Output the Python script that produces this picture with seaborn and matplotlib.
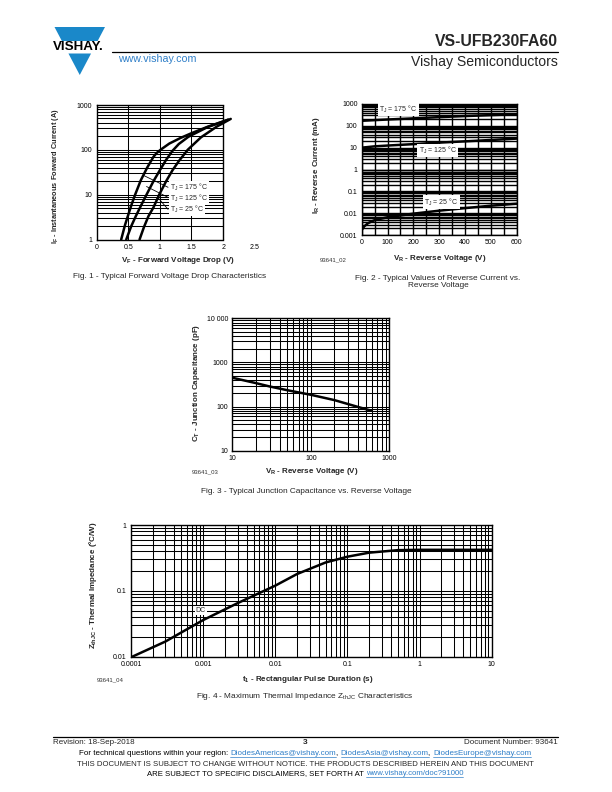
import numpy as np
import pandas as pd
import matplotlib
matplotlib.use("Agg")
import matplotlib.pyplot as plt
import seaborn as sns
from matplotlib.ticker import FixedLocator, NullFormatter, LogLocator, MultipleLocator, FixedFormatter
from matplotlib.patches import Polygon
from matplotlib.lines import Line2D

# ---------------- data ----------------
# Fig 1: forward characteristics
vf_175 = [0.39, 0.45, 0.50, 0.55, 0.61, 0.70, 0.80, 0.90, 0.95, 1.01, 1.15, 1.33, 1.50, 1.75, 2.08]
if_175 = [1, 2.1, 3.5, 5.8, 10, 21, 40, 70, 85, 100, 138, 185, 235, 325, 470]
vf_125 = [0.47, 0.55, 0.62, 0.70, 0.79, 0.90, 1.00, 1.10, 1.20, 1.30, 1.45, 1.75, 2.08]
if_125 = [1, 2, 3.3, 5.6, 10, 20, 35, 60, 95, 135, 195, 320, 470]
vf_25 = [0.68, 0.75, 0.82, 0.90, 0.99, 1.10, 1.20, 1.30, 1.44, 1.65, 1.90, 2.12]
if_25 = [1, 1.9, 3.3, 5.2, 10, 20, 35, 56, 100, 190, 330, 490]

# Fig 2: reverse current
vr_hot = [0, 100, 200, 300, 400, 500, 600]
ir_175 = [170, 195, 220, 250, 280, 310, 340]
vr_125 = [0, 50, 100, 200, 300, 400, 500, 600]
ir_125 = [10, 11.5, 12.5, 14.5, 17, 19.5, 22.5, 26]
vr_25 = [0, 10, 25, 50, 100, 200, 300, 400, 500, 600]
ir_25 = [0.0017, 0.0025, 0.0035, 0.0048, 0.0065, 0.0095, 0.013, 0.017, 0.022, 0.027]

# Fig 3: junction capacitance
vr_cap = [10, 20, 30, 50, 100, 200, 400, 600]
ct_cap = [450, 340, 285, 235, 185, 140, 98, 80]

# Fig 4: thermal impedance
t_pulse = [1e-4, 3e-4, 1e-3, 3e-3, 1e-2, 2e-2, 5e-2, 0.1, 0.2, 0.5, 1, 10]
z_thjc = [0.0098, 0.017, 0.036, 0.065, 0.12, 0.18, 0.27, 0.33, 0.38, 0.415, 0.42, 0.42]

# ---------------- style ----------------
sns.set_theme(style="white")
plt.rcParams["font.family"] = ["Liberation Sans", "DejaVu Sans"]
plt.rcParams["mathtext.fontset"] = "custom"
plt.rcParams["mathtext.rm"] = "Liberation Sans"
plt.rcParams["mathtext.it"] = "Liberation Sans:italic"
plt.rcParams["mathtext.bf"] = "Liberation Sans:bold"

W, H = 612, 792
fig = plt.figure(figsize=(6.12, 7.92), dpi=100)
fig.patch.set_facecolor("white")
BLUE = "#1a88c9"
LINK = "#2f7fc8"
GRID_LW = 0.75
CURVE_LW = 1.8
TICK_FS = 5.0
LAB_FS = 5.8
CAP_FS = 5.95


def fx(x):
    return x / W


def fy(y):
    return 1 - y / H


def axrect(l, t, r, b):
    return fig.add_axes([l / W, 1 - b / H, (r - l) / W, (b - t) / H])


def ftext(x, y, s, **kw):
    kw.setdefault("va", "center")
    return fig.text(fx(x), fy(y), s, **kw)


def style_axes(ax):
    for sp in ax.spines.values():
        sp.set_color("black")
        sp.set_linewidth(1.0)
        sp.set_visible(True)
    ax.tick_params(which="both", length=0, labelsize=TICK_FS, colors="black", pad=3)
    ax.set_xlabel("")
    ax.set_ylabel("")
    ax.set_facecolor("white")


def lbl_box(ax, x, y, s, fs=TICK_FS):
    ax.text(x, y, s, fontsize=fs, va="center", ha="left", zorder=6,
            bbox=dict(boxstyle="square,pad=0.15", fc="white", ec="none"))


# ---------------- Fig 1 ----------------
ax1 = axrect(96.5, 105, 254.8, 239.5)
df1 = pd.concat([
    pd.DataFrame({"V": vf_175, "I": if_175, "T": "175"}),
    pd.DataFrame({"V": vf_125, "I": if_125, "T": "125"}),
    pd.DataFrame({"V": vf_25, "I": if_25, "T": "25"}),
])
sns.lineplot(data=df1, x="V", y="I", hue="T", palette={"175": "black", "125": "black", "25": "black"},
             estimator=None, sort=False, legend=False, lw=CURVE_LW, ax=ax1, zorder=4)
ax1.set_yscale("log")
ax1.set_xlim(0, 2.5)
ax1.set_ylim(1, 1000)
style_axes(ax1)
ax1.spines["right"].set_visible(False)
ax1.spines["top"].set_bounds(0, 2)
ax1.spines["bottom"].set_bounds(0, 2)
hv = [m * 10 ** d for d in range(0, 3) for m in range(2, 10)] + [10, 100]
ax1.hlines(hv, 0, 2, color="black", lw=GRID_LW, zorder=1)
ax1.vlines([0.5, 1.0, 1.5], 1, 1000, color="black", lw=GRID_LW, zorder=1)
ax1.vlines([2.0], 1, 1000, color="black", lw=1.0, zorder=1)
ax1.xaxis.set_major_locator(FixedLocator([0, 0.5, 1, 1.5, 2, 2.5]))
ax1.xaxis.set_major_formatter(FixedFormatter(["0", "0.5", "1", "1.5", "2", "2.5"]))
ax1.yaxis.set_major_locator(FixedLocator([1, 10, 100, 1000]))
ax1.yaxis.set_major_formatter(FixedFormatter(["1", "10", "100", "1000"]))
ax1.yaxis.set_minor_formatter(NullFormatter())
ax1.yaxis.set_minor_locator(FixedLocator([]))
for (x0, y0, x1, y1) in [(0.74, 27, 1.13, 14.6), (0.79, 15.2, 1.13, 8.7), (0.97, 8.6, 1.13, 4.7)]:
    ax1.plot([x0, x1], [y0, y1], color="black", lw=0.6, zorder=5)
lbl_box(ax1, 1.16, 14.6, r"T$_\mathrm{J}$ = 175 °C")
lbl_box(ax1, 1.16, 8.4, r"T$_\mathrm{J}$ = 125 °C")
lbl_box(ax1, 1.16, 4.6, r"T$_\mathrm{J}$ = 25 °C")

ftext(178, 261, r"$\mathbf{V_F}$ - Forward Voltage Drop (V)", fontsize=LAB_FS, weight="bold", ha="center")
ftext(56, 176, r"$\mathbf{I_F}$ - Instantaneous Forward Current (A)", fontsize=5.3, weight="bold",
      ha="center", rotation=90)
ftext(170, 277, "Fig. 1 - Typical Forward Voltage Drop Characteristics", fontsize=CAP_FS, ha="center")

# ---------------- Fig 2 ----------------
ax2 = axrect(361.7, 104, 516.7, 235)
df2 = pd.concat([
    pd.DataFrame({"V": vr_hot, "I": ir_175, "T": "175"}),
    pd.DataFrame({"V": vr_125, "I": ir_125, "T": "125"}),
    pd.DataFrame({"V": vr_25, "I": ir_25, "T": "25"}),
])
sns.lineplot(data=df2, x="V", y="I", hue="T", palette={"175": "black", "125": "black", "25": "black"},
             estimator=None, sort=False, legend=False, lw=CURVE_LW, ax=ax2, zorder=4)
ax2.set_yscale("log")
ax2.set_xlim(0, 600)
ax2.set_ylim(0.001, 1000)
style_axes(ax2)
ax2.xaxis.set_major_locator(FixedLocator([0, 100, 200, 300, 400, 500, 600]))
ax2.xaxis.set_major_formatter(FixedFormatter(["0", "100", "200", "300", "400", "500", "600"]))
ax2.xaxis.set_minor_locator(MultipleLocator(50))
ax2.yaxis.set_major_locator(FixedLocator([0.001, 0.01, 0.1, 1, 10, 100, 1000]))
ax2.yaxis.set_major_formatter(FixedFormatter(["0.001", "0.01", "0.1", "1", "10", "100", "1000"]))
ax2.yaxis.set_minor_locator(LogLocator(base=10, subs=np.arange(2, 10), numticks=20))
ax2.yaxis.set_minor_formatter(NullFormatter())
ax2.grid(True, which="both", color="black", lw=1.0, zorder=1)
ax2.set_axisbelow(True)
lbl_box(ax2, 68, 550, r"T$_\mathrm{J}$ = 175 °C")
lbl_box(ax2, 220, 7.3, r"T$_\mathrm{J}$ = 125 °C")
lbl_box(ax2, 243, 0.032, r"T$_\mathrm{J}$ = 25 °C")

ftext(440, 259, r"$\mathbf{V_R}$ - Reverse Voltage (V)", fontsize=LAB_FS, weight="bold", ha="center")
ftext(316, 165, r"$\mathbf{I_R}$ - Reverse Current (mA)", fontsize=LAB_FS, weight="bold",
      ha="center", rotation=90)
ftext(320, 259.5, "93641_02", fontsize=4.3, ha="left", color="#333333")
ftext(438, 282, "Fig. 2 - Typical Values of Reverse Current vs.\nReverse Voltage", fontsize=CAP_FS,
      ha="center", multialignment="center", linespacing=1.1)

# ---------------- Fig 3 ----------------
ax3 = axrect(232.3, 318.3, 389.3, 450.7)
df3 = pd.DataFrame({"V": vr_cap, "C": ct_cap})
sns.lineplot(data=df3, x="V", y="C", color="black", lw=CURVE_LW, ax=ax3, zorder=4)
ax3.set_xscale("log")
ax3.set_yscale("log")
ax3.set_xlim(10, 1000)
ax3.set_ylim(10, 10000)
style_axes(ax3)
ax3.xaxis.set_major_locator(FixedLocator([10, 100, 1000]))
ax3.xaxis.set_major_formatter(FixedFormatter(["10", "100", "1000"]))
ax3.yaxis.set_major_locator(FixedLocator([10, 100, 1000, 10000]))
ax3.yaxis.set_major_formatter(FixedFormatter(["10", "100", "1000", "10 000"]))
for a in (ax3.xaxis, ax3.yaxis):
    a.set_minor_locator(LogLocator(base=10, subs=np.arange(2, 10), numticks=20))
    a.set_minor_formatter(NullFormatter())
ax3.grid(True, which="both", color="black", lw=GRID_LW, zorder=1)
ax3.set_axisbelow(True)

ftext(311.7, 472, r"$\mathbf{V_R}$ - Reverse Voltage (V)", fontsize=LAB_FS, weight="bold", ha="center")
ftext(196.7, 383, r"$\mathbf{C_T}$ - Junction Capacitance (pF)", fontsize=LAB_FS, weight="bold",
      ha="center", rotation=90)
ftext(192, 471.5, "93641_03", fontsize=4.3, ha="left", color="#333333")
ftext(306, 491.5, "Fig. 3 - Typical Junction Capacitance vs. Reverse Voltage", fontsize=CAP_FS, ha="center")

# ---------------- Fig 4 ----------------
ax4 = axrect(131, 525, 491.7, 656.7)
df4 = pd.DataFrame({"t": t_pulse, "Z": z_thjc})
sns.lineplot(data=df4, x="t", y="Z", color="black", lw=CURVE_LW, ax=ax4, zorder=4)
ax4.set_xscale("log")
ax4.set_yscale("log")
ax4.set_xlim(1e-4, 10)
ax4.set_ylim(0.01, 1)
style_axes(ax4)
ax4.xaxis.set_major_locator(FixedLocator([1e-4, 1e-3, 1e-2, 1e-1, 1, 10]))
ax4.xaxis.set_major_formatter(FixedFormatter(["0.0001", "0.001", "0.01", "0.1", "1", "10"]))
ax4.yaxis.set_major_locator(FixedLocator([0.01, 0.1, 1]))
ax4.yaxis.set_major_formatter(FixedFormatter(["0.01", "0.1", "1"]))
for a in (ax4.xaxis, ax4.yaxis):
    a.set_minor_locator(LogLocator(base=10, subs=np.arange(2, 10), numticks=20))
    a.set_minor_formatter(NullFormatter())
ax4.grid(True, which="both", color="black", lw=GRID_LW, zorder=1)
ax4.set_axisbelow(True)
lbl_box(ax4, 7.9e-4, 0.051, "DC")

ftext(307.5, 679.5, r"$\mathbf{t_1}$ - Rectangular Pulse Duration (s)", fontsize=LAB_FS, weight="bold", ha="center")
ftext(93, 585, r"$\mathbf{Z_{thJC}}$ - Thermal Impedance (°C/W)", fontsize=LAB_FS, weight="bold",
      ha="center", rotation=90)
ftext(97, 680, "93641_04", fontsize=4.3, ha="left", color="#333333")
ftext(305, 696, r"Fig. 4 - Maximum Thermal Impedance Z$_\mathrm{thJC}$ Characteristics", fontsize=CAP_FS,
      ha="center")

# ---------------- header ----------------
def hw(y):
    return 25.25 * (75 - y) / 48.0

cx = 79.75
top_poly = [(cx - hw(27), 27), (cx + hw(27), 27), (cx + hw(41), 41), (cx - hw(41), 41)]
bot_poly = [(cx - hw(53.5), 53.5), (cx + hw(53.5), 53.5), (cx, 75)]
for poly in (top_poly, bot_poly):
    fig.add_artist(Polygon([(fx(x), fy(y)) for x, y in poly], closed=True, fc=BLUE, ec="none",
                           transform=fig.transFigure))
ftext(78.5, 47.5, "VISHAY.", fontsize=9.6, weight="bold", ha="center", color="black")
ftext(118, 58.5, "www.vishay.com", fontsize=7.7, ha="left", color=LINK)
ftext(558, 41, "VS-UFB230FA60", fontsize=11.3, weight="bold", ha="right")
fig.add_artist(Line2D([fx(112), fx(558)], [fy(52), fy(52)], color="black", lw=0.9))
ftext(558, 62, "Vishay Semiconductors", fontsize=10.1, ha="right")

# ---------------- footer ----------------
fig.add_artist(Line2D([fx(53), fx(558)], [fy(737), fy(737)], color="black", lw=0.9))
ftext(53, 742.5, "Revision: 18-Sep-2018", fontsize=5.8, ha="left")
ftext(305, 743, "3", fontsize=6.0, weight="bold", ha="center")
ftext(558, 742.5, "Document Number: 93641", fontsize=5.8, ha="right")

renderer = fig.canvas.get_renderer()


def seq_text(y, parts, fs, center_x=305):
    ts = []
    for s, link in parts:
        t = fig.text(0, fy(y), s, fontsize=fs, color=LINK if link else "black", va="center", ha="left")
        ts.append((t, link))
    widths = [t.get_window_extent(renderer).width for t, _ in ts]
    x = center_x - sum(widths) / 2.0
    for (t, link), w in zip(ts, widths):
        t.set_x(fx(x))
        if link:
            fig.add_artist(Line2D([fx(x), fx(x + w)], [fy(y + 3.6), fy(y + 3.6)], color=LINK, lw=0.5))
        x += w


seq_text(753.5, [("For technical questions within your region: ", False),
                 ("DiodesAmericas@vishay.com", True), (", ", False),
                 ("DiodesAsia@vishay.com", True), (", ", False),
                 ("DiodesEurope@vishay.com", True)], 5.75)
ftext(305, 765, "THIS DOCUMENT IS SUBJECT TO CHANGE WITHOUT NOTICE. THE PRODUCTS DESCRIBED HEREIN AND THIS DOCUMENT",
      fontsize=5.6, ha="center")
seq_text(773.5, [("ARE SUBJECT TO SPECIFIC DISCLAIMERS, SET FORTH AT ", False),
                 ("www.vishay.com/doc?91000", True)], 5.6)

fig.savefig("out.png", dpi=100, facecolor="white")
